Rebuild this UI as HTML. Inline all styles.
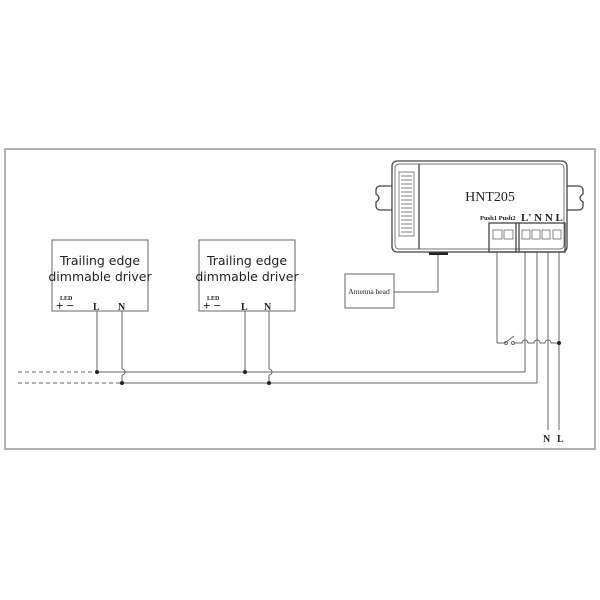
<!DOCTYPE html>
<html><head><style>body{margin:0;background:#fff}svg{display:block}</style></head><body>
<svg width="600" height="600" viewBox="0 0 600 600" xmlns="http://www.w3.org/2000/svg" font-family="Liberation Serif, serif">
<rect x="5" y="149" width="590" height="300" fill="none" stroke="#999" stroke-width="1.5"/>
<g fill="none" stroke="#666" stroke-width="1">
<rect x="52" y="240" width="96" height="71"/>
<rect x="199" y="240" width="96" height="71"/>
<line x1="97" y1="311" x2="97" y2="372"/>
<line x1="122" y1="311" x2="122" y2="369"/><path d="M122 369 a3 3 0 0 1 0 6"/><line x1="122" y1="375" x2="122" y2="383"/>
<line x1="245" y1="311" x2="245" y2="372"/>
<line x1="269" y1="311" x2="269" y2="369"/><path d="M269 369 a3 3 0 0 1 0 6"/><line x1="269" y1="375" x2="269" y2="383"/>
<line x1="18" y1="372" x2="97" y2="372" stroke-dasharray="4 3"/>
<line x1="18" y1="383" x2="122" y2="383" stroke-dasharray="4 3"/>
<line x1="97" y1="372" x2="525" y2="372"/>
<line x1="122" y1="383" x2="537" y2="383"/>
<line x1="525" y1="252" x2="525" y2="372"/>
<line x1="537" y1="252" x2="537" y2="383"/>
<line x1="548" y1="252" x2="548" y2="430"/>
<line x1="559" y1="252" x2="559" y2="430"/>
<line x1="497" y1="252" x2="497" y2="343"/>
<path d="M497 343 H505 M505 343 L514 336 M514 343 H522 a3 3 0 0 1 6 0 H534 a3 3 0 0 1 6 0 H545 a3 3 0 0 1 6 0 H559"/>
<circle cx="506" cy="343" r="1.5"/><circle cx="513" cy="343" r="1.5"/>
<rect x="345" y="274" width="49" height="34"/>
<path d="M394 292 H438 V255"/>
</g>
<g fill="#222"><circle cx="97" cy="372" r="2"/><circle cx="122" cy="383" r="2"/><circle cx="245" cy="372" r="2"/><circle cx="269" cy="383" r="2"/><circle cx="559" cy="343" r="2"/>
<rect x="429" y="252" width="19" height="3"/></g>
<g fill="none" stroke="#444" stroke-width="1.3">
<path d="M392 186 h-12 a4 4 0 0 0 -4 4 v4 q6 4 0 8 v4 a4 4 0 0 0 4 4 h12"/>
<path d="M567 186 h12 a4 4 0 0 1 4 4 v4 q-6 4 0 8 v4 a4 4 0 0 1 -4 4 h-12"/>
<rect x="392" y="161" width="175" height="91" rx="5"/>
<rect x="395" y="164" width="169" height="85" rx="4" stroke-width="0.7"/>
<line x1="419" y1="164" x2="419" y2="249"/>
<rect x="489" y="223" width="76" height="29"/>
<line x1="516" y1="223" x2="516" y2="252"/>
<line x1="519" y1="223" x2="519" y2="252"/>
</g>
<g fill="none" stroke="#555" stroke-width="0.7">
<rect x="399" y="172" width="15" height="64"/>
<path d="M401 176h11M401 180h11M401 184h11M401 188h11M401 192h11M401 196h11M401 200h11M401 204h11M401 208h11M401 212h11M401 216h11M401 220h11M401 224h11M401 228h11M401 232h11"/>
<rect x="493" y="230" width="9" height="9"/><rect x="504" y="230" width="9" height="9"/>
<rect x="522" y="230" width="8" height="9"/><rect x="532" y="230" width="8" height="9"/><rect x="542" y="230" width="8" height="9"/><rect x="553" y="230" width="8" height="9"/>
</g>
<text x="490" y="201" font-size="14" text-anchor="middle" fill="#222">HNT205</text>
<text x="480" y="220" font-size="6.5" font-weight="bold" fill="#222">Push1 Push2</text>
<text x="521" y="221" font-size="11" font-weight="bold" fill="#222">L' N N L</text>
<text x="369" y="294" font-size="7.5" text-anchor="middle" fill="#222">Antenna head</text>
<g font-family="DejaVu Sans, sans-serif" font-size="12.5" fill="#222" text-anchor="middle">
<text x="100" y="265">Trailing edge</text><text x="100" y="281">dimmable driver</text>
<text x="247" y="265">Trailing edge</text><text x="247" y="281">dimmable driver</text>
</g>
<g fill="#222" font-weight="bold">
<text x="60" y="300" font-size="6">LED</text><text x="56" y="310" font-size="13">+ −</text><text x="93" y="310" font-size="10">L</text><text x="118" y="310" font-size="10">N</text>
<text x="207" y="300" font-size="6">LED</text><text x="203" y="310" font-size="13">+ −</text><text x="241" y="310" font-size="10">L</text><text x="264" y="310" font-size="10">N</text>
<text x="543" y="442" font-size="10">N</text><text x="557" y="442" font-size="10">L</text>
</g>
</svg>
</body></html>
